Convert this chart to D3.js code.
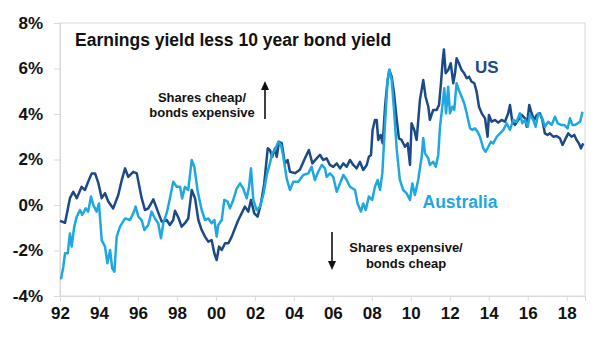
<!DOCTYPE html>
<html><head><meta charset="utf-8">
<script src="https://cdn.jsdelivr.net/npm/d3@7"></script>
<style>
body{margin:0;background:#fff}
text{font-family:"Liberation Sans",Arial,sans-serif;font-weight:bold;fill:#111}
</style>
</head><body>
<svg id="c" width="600" height="337"></svg>
<script>
const yearTicks=[1992,1994,1996,1998,2000,2002,2004,2006,2008,2010,2012,2014,2016,2018];
const yearLabels=["92","94","96","98","00","02","04","06","08","10","12","14","16","18"];
const pctTicks=[-4,-2,0,2,4,6,8];
const pctLabels=["-4%","-2%","0%","2%","4%","6%","8%"];

const usDates=[1992.00,1992.26,1992.51,1992.68,1992.86,1993.11,1993.28,1993.45,1993.63,1993.80,1993.97,1994.14,1994.31,1994.48,1994.73,1994.99,1995.17,1995.34,1995.50,1995.76,1995.94,1996.19,1996.36,1996.53,1996.79,1996.96,1997.22,1997.47,1997.64,1997.81,1997.90,1998.07,1998.24,1998.41,1998.58,1998.76,1998.93,1999.10,1999.27,1999.44,1999.61,1999.78,1999.92,2000.04,2000.16,2000.30,2000.47,2000.64,2000.81,2000.98,2001.15,2001.32,2001.49,2001.66,2001.80,2001.97,2002.14,2002.31,2002.48,2002.66,2002.77,2002.89,2003.03,2003.12,2003.24,2003.38,2003.54,2003.68,2003.80,2004.06,2004.31,2004.57,2004.77,2004.95,2005.17,2005.34,2005.51,2005.68,2005.85,2006.02,2006.20,2006.37,2006.54,2006.71,2006.88,2007.05,2007.22,2007.39,2007.56,2007.74,2007.85,2007.96,2008.04,2008.16,2008.25,2008.33,2008.45,2008.56,2008.68,2008.81,2008.90,2009.02,2009.14,2009.28,2009.39,2009.53,2009.70,2009.84,2009.96,2010.04,2010.18,2010.30,2010.47,2010.64,2010.76,2010.90,2010.98,2011.15,2011.33,2011.45,2011.55,2011.64,2011.70,2011.79,2011.92,2012.05,2012.18,2012.27,2012.35,2012.47,2012.61,2012.74,2012.87,2012.99,2013.12,2013.26,2013.38,2013.50,2013.64,2013.81,2013.94,2014.01,2014.15,2014.32,2014.49,2014.66,2014.83,2015.00,2015.09,2015.21,2015.35,2015.52,2015.69,2015.86,2015.95,2016.08,2016.20,2016.34,2016.46,2016.63,2016.75,2016.88,2017.02,2017.14,2017.31,2017.48,2017.65,2017.79,2017.91,2018.08,2018.25,2018.39,2018.51,2018.63,2018.73,2018.85];
const usValues=[-0.70,-0.78,0.30,0.58,0.30,0.80,0.66,1.03,1.39,1.39,0.96,0.30,0.52,0.15,-0.15,0.44,1.10,1.61,1.24,1.46,1.39,0.30,-0.22,-0.15,0.25,-0.15,-0.73,-0.66,-0.88,-0.66,-0.25,-0.55,-0.95,-0.80,-0.59,0.66,0.29,-0.66,-1.10,-1.39,-1.61,-1.54,-2.12,-2.42,-1.83,-1.98,-1.68,-1.68,-1.39,-1.02,-0.66,-0.37,-0.07,-0.29,0.22,-0.37,-0.51,0.07,0.95,2.49,2.42,2.12,2.49,2.12,2.78,2.71,1.83,1.98,1.46,1.40,1.55,2.05,2.42,1.83,2.05,2.20,1.98,2.05,1.76,1.68,1.83,1.61,1.83,1.68,1.98,1.76,1.61,1.90,1.54,1.76,2.12,2.20,3.30,3.74,3.74,2.86,3.08,2.71,4.32,5.49,5.93,5.64,4.91,3.74,2.93,2.86,2.56,2.71,1.76,3.59,3.30,2.86,4.62,5.49,4.76,4.32,3.74,4.18,4.18,4.40,5.35,6.37,6.84,5.79,5.93,6.23,5.35,5.79,6.45,6.23,5.93,5.79,5.57,5.64,5.42,5.35,4.98,4.32,4.03,3.81,3.00,3.96,3.66,3.74,3.62,3.74,3.66,4.03,4.40,3.66,3.52,3.74,3.96,3.81,3.44,4.40,4.03,3.74,3.96,4.03,3.74,3.15,3.08,3.15,3.00,3.03,2.93,2.64,2.86,3.15,3.00,3.08,2.86,2.71,2.49,2.71];

const ausDates=[1992.05,1992.17,1992.26,1992.40,1992.51,1992.60,1992.73,1992.86,1993.03,1993.14,1993.32,1993.45,1993.59,1993.71,1993.88,1994.00,1994.14,1994.31,1994.43,1994.57,1994.68,1994.79,1994.91,1995.08,1995.34,1995.59,1995.76,1995.88,1996.02,1996.19,1996.33,1996.53,1996.70,1996.87,1997.04,1997.18,1997.30,1997.47,1997.64,1997.81,1997.99,1998.16,1998.27,1998.41,1998.58,1998.76,1998.89,1999.07,1999.27,1999.44,1999.61,1999.78,1999.92,2000.04,2000.12,2000.30,2000.43,2000.60,2000.72,2000.89,2001.07,2001.24,2001.40,2001.58,2001.70,2001.80,2001.92,2002.09,2002.26,2002.43,2002.61,2002.77,2002.89,2003.03,2003.20,2003.34,2003.46,2003.63,2003.80,2003.97,2004.23,2004.48,2004.74,2004.91,2005.08,2005.25,2005.43,2005.60,2005.68,2005.85,2006.02,2006.20,2006.37,2006.54,2006.71,2006.88,2007.14,2007.27,2007.44,2007.56,2007.69,2007.85,2008.02,2008.16,2008.30,2008.42,2008.54,2008.68,2008.81,2008.90,2009.02,2009.14,2009.28,2009.44,2009.61,2009.79,2009.96,2010.08,2010.21,2010.38,2010.56,2010.64,2010.73,2010.90,2010.98,2011.15,2011.28,2011.41,2011.50,2011.62,2011.72,2011.81,2011.92,2012.01,2012.13,2012.23,2012.35,2012.47,2012.61,2012.74,2012.87,2013.04,2013.16,2013.29,2013.43,2013.55,2013.72,2013.84,2013.98,2014.11,2014.23,2014.41,2014.58,2014.75,2014.92,2015.09,2015.26,2015.43,2015.60,2015.72,2015.86,2016.00,2016.11,2016.28,2016.41,2016.54,2016.72,2016.88,2017.05,2017.23,2017.40,2017.54,2017.71,2017.87,2018.05,2018.17,2018.29,2018.43,2018.57,2018.69,2018.81];
const ausValues=[-3.27,-2.71,-2.12,-2.12,-1.25,-1.83,-0.95,-0.51,-0.22,-0.44,-0.15,-0.29,0.37,0.00,-0.29,0.07,-1.54,-1.83,-2.56,-1.98,-2.78,-2.93,-1.39,-0.95,-0.59,-0.66,-0.37,-0.07,-0.51,-0.66,-1.10,-0.88,-0.29,-0.59,-0.80,-1.46,-0.80,-0.37,0.29,1.02,0.80,0.80,0.29,0.80,0.66,1.98,1.68,0.58,-0.22,-0.66,-0.59,-0.80,-0.66,-1.39,-0.88,-0.66,0.22,0.15,-0.15,0.22,0.73,0.95,0.73,0.29,0.80,1.61,0.22,-0.22,-0.07,0.44,1.32,1.83,2.27,2.42,2.78,2.64,2.12,1.17,0.66,1.02,1.02,1.32,1.39,1.68,1.10,1.46,1.76,1.61,1.24,1.39,1.24,0.58,0.95,1.32,1.10,0.80,0.66,0.07,-0.29,0.07,-0.22,0.37,0.22,0.80,1.10,0.66,1.39,3.59,5.49,5.96,5.49,4.18,2.42,1.10,0.66,0.51,0.22,0.95,0.44,1.10,2.12,2.95,2.27,2.05,1.76,1.90,1.68,2.20,3.44,4.32,5.13,4.03,5.20,4.03,4.32,4.18,5.35,5.05,4.76,4.47,4.03,3.37,3.30,3.37,3.22,3.00,2.49,2.34,2.56,2.78,2.71,3.00,3.15,3.30,3.59,3.30,3.74,3.66,4.03,3.59,3.74,3.44,3.96,3.74,3.44,4.03,3.88,3.44,3.66,3.52,3.88,3.59,3.52,3.52,3.37,3.81,3.52,3.52,3.59,3.66,4.10];

const usColor="#1c4a87", ausColor="#1fa8e0", gridColor="#d9d9d9";
const svg=d3.select("#c");
const x=d3.scaleLinear().domain([1992,2018.94]).range([60,585]);
const y=d3.scaleLinear().domain([-4,8]).range([296,23]);

svg.append("rect").attr("x",x.range()[0]).attr("y",y.range()[1])
  .attr("width",x.range()[1]-x.range()[0]).attr("height",y.range()[0]-y.range()[1])
  .attr("fill","none").attr("stroke",gridColor).attr("stroke-width",1);

const yAxis=svg.append("g").attr("transform",`translate(${x.range()[0]},0)`)
  .call(d3.axisLeft(y).tickValues(pctTicks).tickFormat((d,i)=>pctLabels[i]).tickSize(6).tickPadding(11));
const xAxis=svg.append("g").attr("transform",`translate(0,${y.range()[0]})`)
  .call(d3.axisBottom(x).tickValues(yearTicks).tickFormat((d,i)=>yearLabels[i]).tickSize(5).tickPadding(6));
[yAxis,xAxis].forEach(g=>{
  g.select(".domain").attr("stroke",gridColor);
  g.selectAll(".tick line").attr("stroke",gridColor);
  g.selectAll(".tick text").attr("font-size",17).attr("font-family","Liberation Sans, Arial, sans-serif").attr("font-weight","bold").attr("fill","#111");
});

const line=d3.line().x(d=>x(d[0])).y(d=>y(d[1]));
const usData=usDates.map((d,i)=>[d,usValues[i]]);
const ausData=ausDates.map((d,i)=>[d,ausValues[i]]);
svg.append("path").datum(usData).attr("d",line).attr("fill","none").attr("stroke",usColor).attr("stroke-width",2.5).attr("stroke-linejoin","round");
svg.append("path").datum(ausData).attr("d",line).attr("fill","none").attr("stroke",ausColor).attr("stroke-width",2.5).attr("stroke-linejoin","round");

svg.append("text").attr("x",75).attr("y",46).attr("font-size",17.5).text("Earnings yield less 10 year bond yield");
svg.append("text").attr("x",475).attr("y",73).attr("font-size",17).style("fill",usColor).text("US");
svg.append("text").attr("x",460).attr("y",208).attr("text-anchor","middle").attr("font-size",17.5).style("fill",ausColor).text("Australia");

const up=svg.append("g");
up.append("text").attr("x",202).attr("y",102).attr("text-anchor","middle").attr("font-size",13).text("Shares cheap/");
up.append("text").attr("x",202).attr("y",117).attr("text-anchor","middle").attr("font-size",13).text("bonds expensive");
up.append("line").attr("x1",265).attr("x2",265).attr("y1",119).attr("y2",88).attr("stroke","#111").attr("stroke-width",1.6);
up.append("path").attr("d","M265,81 L261,90 L269,90 Z").attr("fill","#111");

const dn=svg.append("g");
dn.append("text").attr("x",406).attr("y",252).attr("text-anchor","middle").attr("font-size",13).text("Shares expensive/");
dn.append("text").attr("x",406).attr("y",268).attr("text-anchor","middle").attr("font-size",13).text("bonds cheap");
dn.append("line").attr("x1",332).attr("x2",332).attr("y1",232).attr("y2",263).attr("stroke","#111").attr("stroke-width",1.6);
dn.append("path").attr("d","M332,270 L328,261 L336,261 Z").attr("fill","#111");
</script>
</body></html>
